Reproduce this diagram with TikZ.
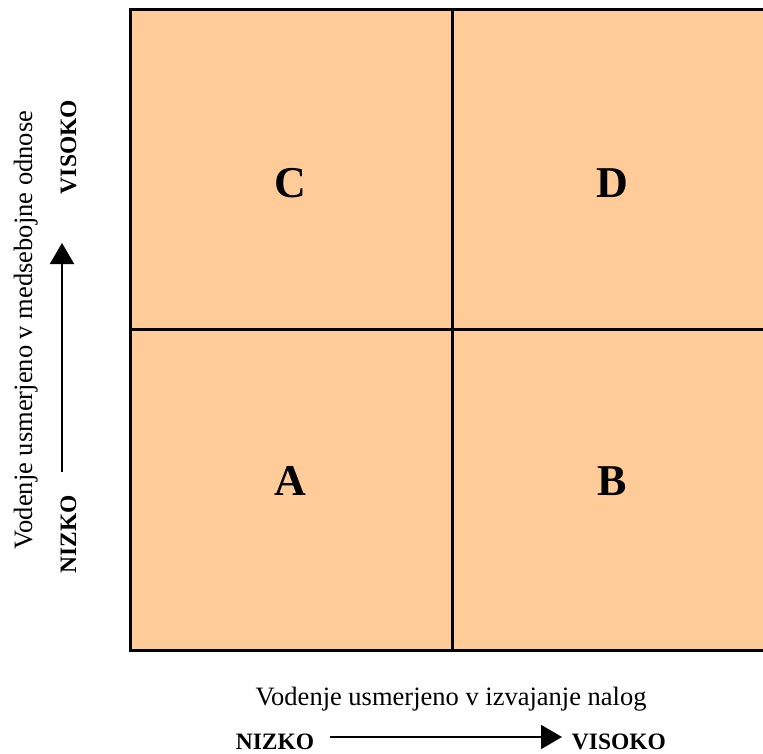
\documentclass[tikz,border=0pt]{standalone}
\usepackage{fontspec}
\setmainfont{Liberation Serif}
\usetikzlibrary{arrows.meta}
\definecolor{cellfill}{HTML}{FFCC99}
\tikzset{
  gridline/.style={line width=3pt, line cap=rect},
  quadlabel/.style={font=\fontsize{44}{44}\selectfont\bfseries, inner sep=0pt},
  axistitle/.style={font=\fontsize{26.5}{28}\selectfont, inner sep=0pt},
  axisend/.style={font=\fontsize{23.5}{25}\selectfont\bfseries, inner sep=0pt},
  axisarrow/.style={line width=2pt, -{Triangle[length=21pt,width=24pt]}}
}
\begin{document}
\begin{tikzpicture}[x=1pt,y=-1pt]
  \useasboundingbox (0,0) rectangle (763,754);
  % quadrant field
  \fill[cellfill] (130,10) rectangle (763,650);
  \draw[gridline] (763,10) -- (130,10) -- (130,650) -- (763,650);
  \draw[gridline] (452,10) -- (452,650);
  \draw[gridline] (130,329) -- (763,329);
  % quadrant letters
  \node[quadlabel] (qc) at (290,183) {C};
  \node[quadlabel] (qd) at (612,183) {D};
  \node[quadlabel] (qa) at (290,481) {A};
  \node[quadlabel] (qb) at (612,481) {B};
  % horizontal axis
  \node[axistitle, anchor=base] (xtitle) at (451,705) {Vodenje usmerjeno v izvajanje nalog};
  \node[axisend, anchor=base] (xlow) at (275,749) {NIZKO};
  \node[axisend, anchor=base] (xhigh) at (619,749) {VISOKO};
  \coordinate (xfrom) at (330,737);
  \coordinate (xto) at (562,737);
  \draw[axisarrow] (xfrom) -- (xto);
  % vertical axis
  \node[axistitle, rotate=90, anchor=base] (ytitle) at (32,330) {Vodenje usmerjeno v medsebojne odnose};
  \node[axisend, rotate=90, anchor=base] (ylow) at (76,534) {NIZKO};
  \node[axisend, rotate=90, anchor=base] (yhigh) at (76,147) {VISOKO};
  \coordinate (yfrom) at (62,472);
  \coordinate (yto) at (62,243);
  \draw[axisarrow] (yfrom) -- (yto);
\end{tikzpicture}
\end{document}
